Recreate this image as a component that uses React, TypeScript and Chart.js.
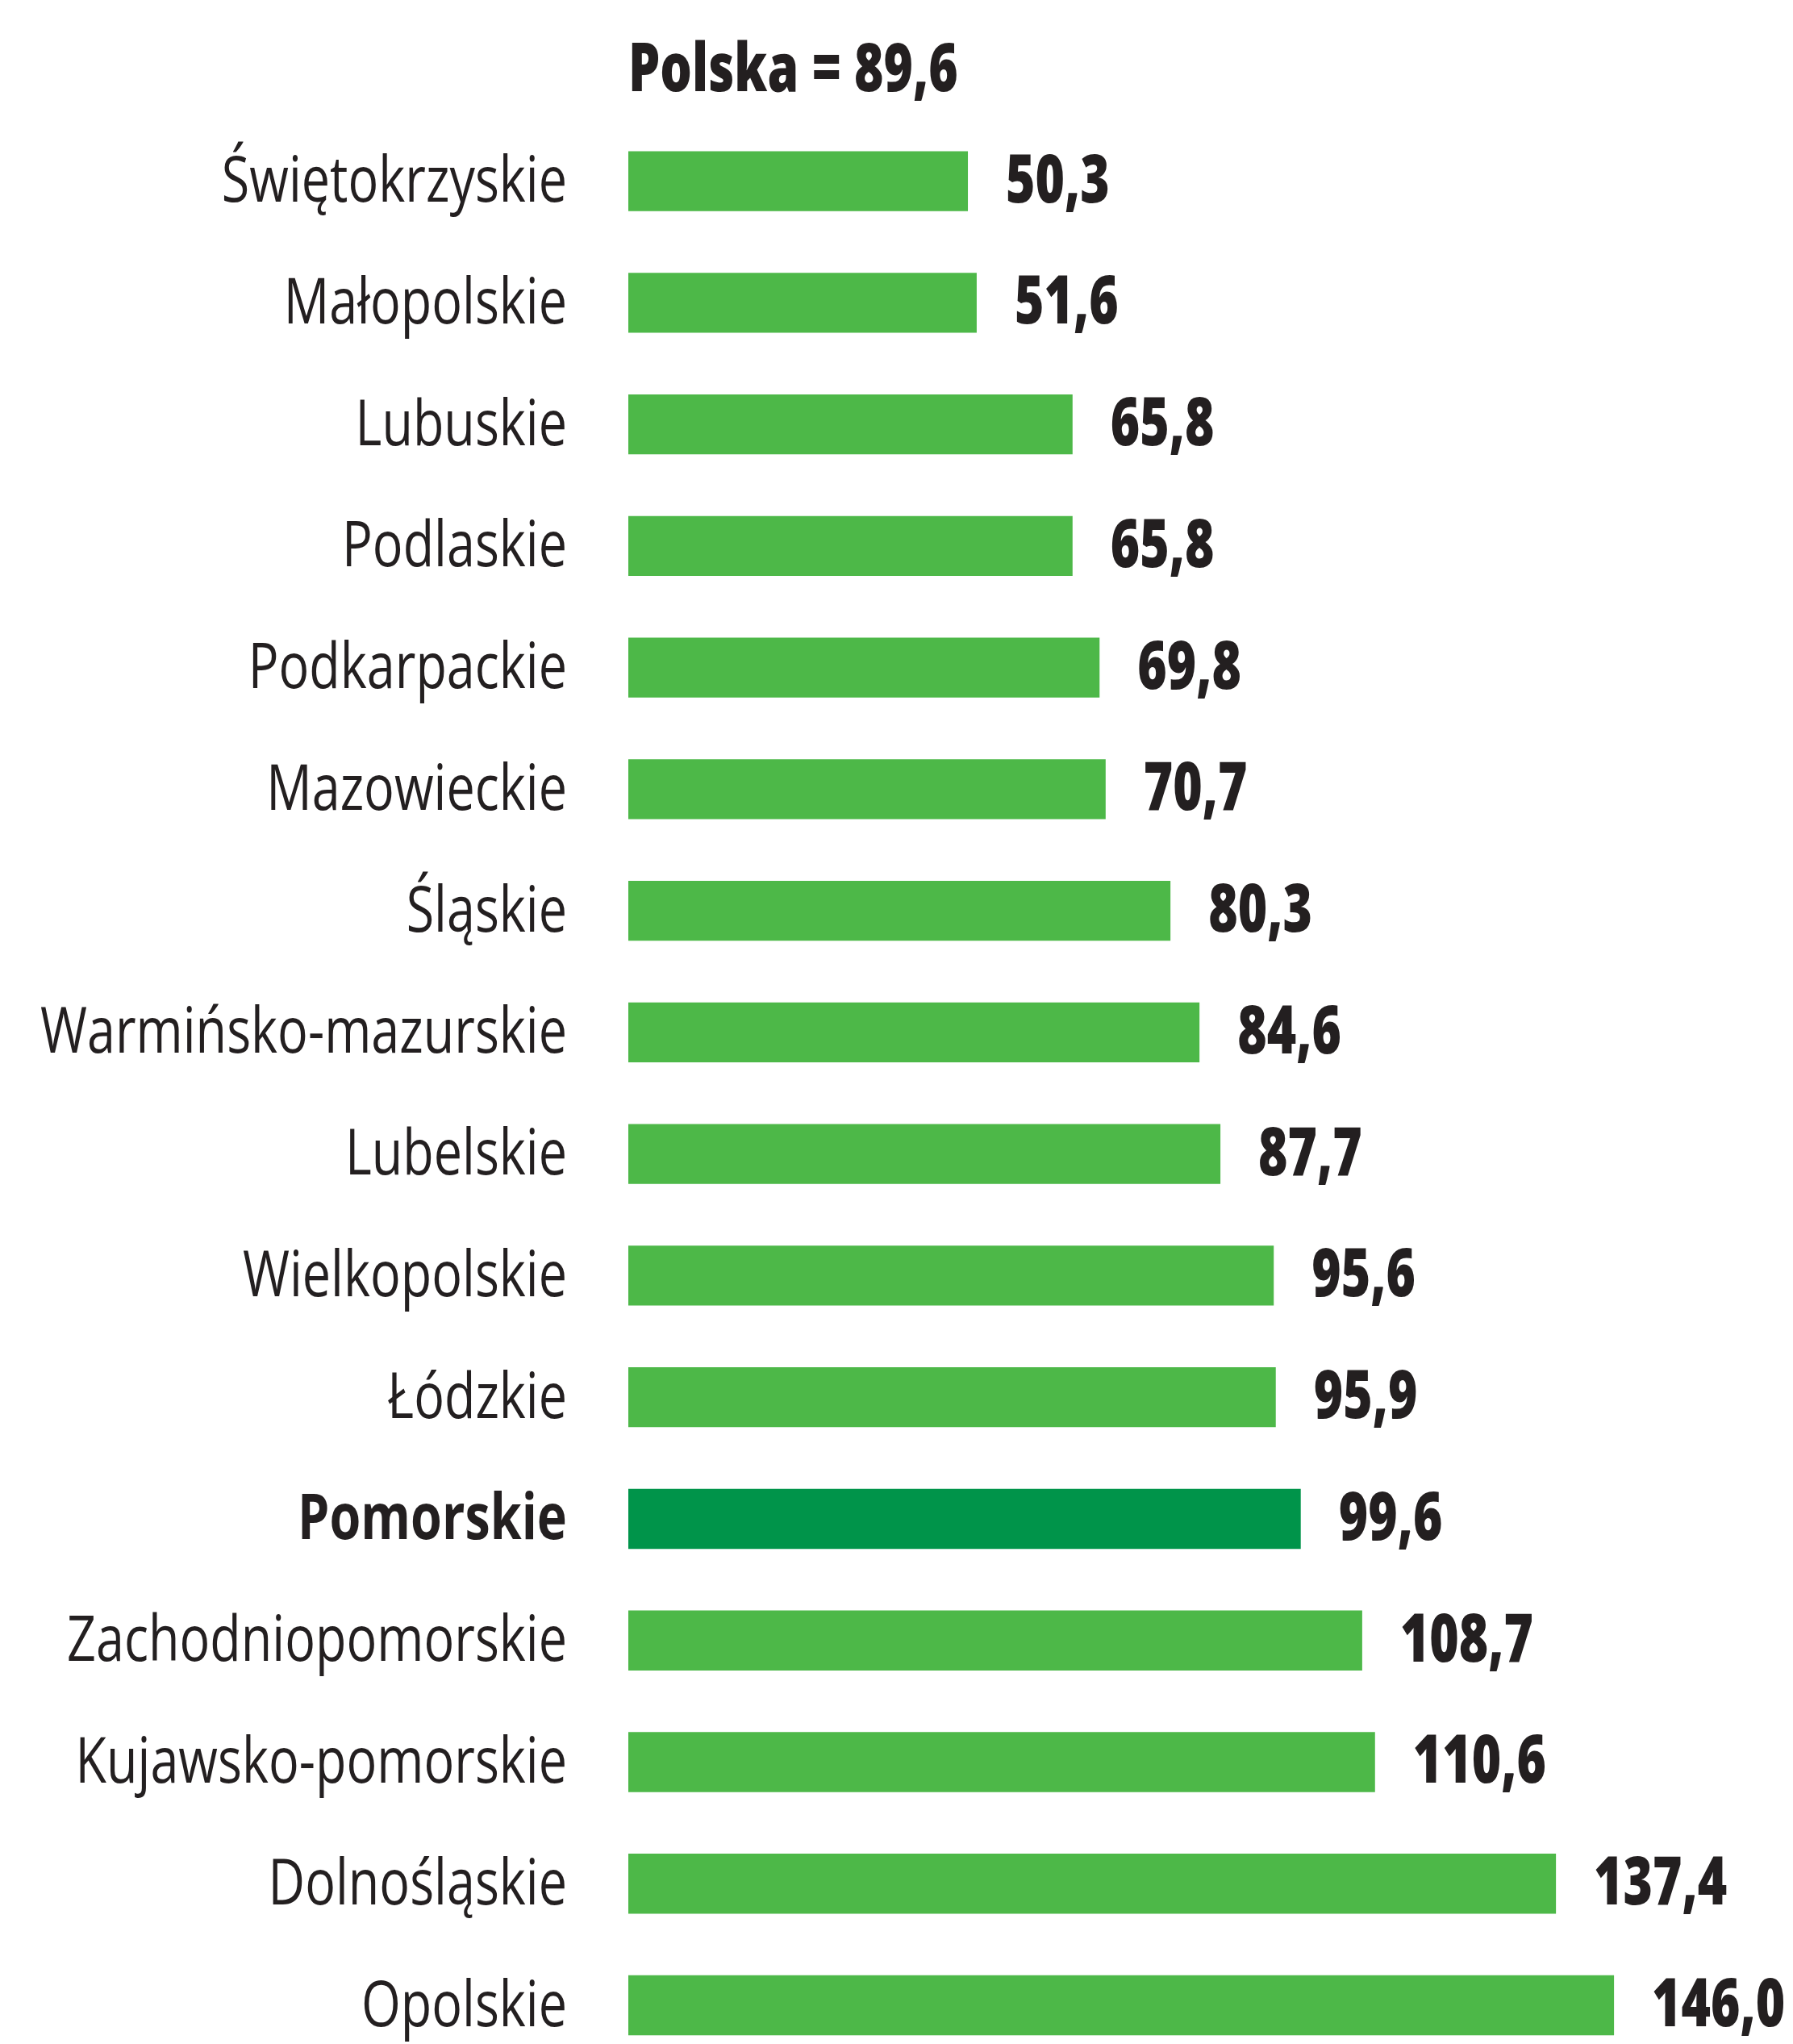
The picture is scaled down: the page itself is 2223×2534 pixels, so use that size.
import { useEffect, useRef } from "react";
import { Chart, registerables, CategoryScale } from "chart.js";

Chart.register(...registerables);

const categories = [
  "Świętokrzyskie",
  "Małopolskie",
  "Lubuskie",
  "Podlaskie",
  "Podkarpackie",
  "Mazowieckie",
  "Śląskie",
  "Warmińsko-mazurskie",
  "Lubelskie",
  "Wielkopolskie",
  "Łódzkie",
  "Pomorskie",
  "Zachodniopomorskie",
  "Kujawsko-pomorskie",
  "Dolnośląskie",
  "Opolskie",
];
const values = [50.3, 51.6, 65.8, 65.8, 69.8, 70.7, 80.3, 84.6, 87.7, 95.6, 95.9, 99.6, 108.7, 110.6, 137.4, 146.0];
const highlight = "Pomorskie";
const titleText = "Polska = 89,6";
const valueLabels = values.map((v) => v.toFixed(1).replace(".", ","));

const GREEN = "#4db848";
const DARK_GREEN = "#00944a";
const TEXT = "#231f20";
const FONT = '"Open Sans", "Noto Sans", sans-serif';
const LABEL_SIZE = 79;
const VALUE_SIZE = 84;

let labelSqueeze = 0.8;
let valueSqueeze = 0.75;

class CondensedCategoryScale extends CategoryScale {
  static id = "condensedCategory";
  static defaults = (CategoryScale as any).defaults;
  _computeLabelArea() {
    return undefined;
  }
  drawLabels(chartArea: any) {
    const self: any = this;
    const ctx = self.ctx;
    const x0 = self.right - self.options.ticks.padding;
    ctx.save();
    ctx.translate(x0, 0);
    ctx.scale(labelSqueeze, 1);
    ctx.translate(-x0, 0);
    (CategoryScale.prototype as any).drawLabels.call(this, chartArea);
    ctx.restore();
  }
}
Chart.register(CondensedCategoryScale as any);

function measure(text: string, font: string) {
  const c = document.createElement("canvas").getContext("2d")!;
  c.font = font;
  return c.measureText(text).width;
}

function drawSqueezed(ctx: any, text: string, x: number, y: number, sx: number) {
  ctx.save();
  ctx.translate(x, y);
  ctx.scale(sx, 1);
  ctx.fillText(text, 0, 0);
  ctx.restore();
}

export default function App() {
  const ref = useRef<HTMLCanvasElement | null>(null);

  useEffect(() => {
    if (!ref.current) return;
    const hiIndex = categories.indexOf(highlight);

    // horizontal condensing factors so the fallback font takes the reference's footprint
    const regFont = `${LABEL_SIZE}px ${FONT}`;
    const boldFont = `800 ${VALUE_SIZE}px ${FONT}`;
    labelSqueeze =
      (651 + 622) / (measure("Warmińsko-mazurskie", regFont) + measure("Zachodniopomorskie", regFont));
    valueSqueeze = (409 + 165) / (measure(titleText, boldFont) + measure("146,0", boldFont));

    const labelPlugin = {
      id: "valueLabels",
      afterDatasetsDraw(chart: any) {
        const ctx = chart.ctx;
        const meta = chart.getDatasetMeta(0);
        ctx.save();
        ctx.fillStyle = TEXT;
        ctx.font = boldFont;
        ctx.textAlign = "left";
        ctx.textBaseline = "alphabetic";
        meta.data.forEach((bar: any, i: number) => {
          drawSqueezed(ctx, valueLabels[i], bar.x + 47, bar.y + 26, valueSqueeze);
        });
        drawSqueezed(ctx, titleText, chart.chartArea.left, chart.chartArea.top - 36, valueSqueeze);
        ctx.restore();
      },
    };

    const chart = new Chart(ref.current, {
      type: "bar",
      data: {
        labels: categories,
        datasets: [
          {
            data: values,
            backgroundColor: categories.map((c) => (c === highlight ? DARK_GREEN : GREEN)),
            borderWidth: 0,
            barPercentage: 0.493,
            categoryPercentage: 1,
          },
        ],
      },
      options: {
        indexAxis: "y",
        responsive: false,
        animation: false,
        layout: { padding: { top: 149.2, bottom: 38.6, left: 0, right: 21 } },
        plugins: {
          legend: { display: false },
          tooltip: { enabled: false },
          title: { display: false },
        },
        scales: {
          x: { display: false, min: 0, max: 170 },
          y: {
            type: "condensedCategory",
            grid: { display: false, drawTicks: false },
            border: { display: false },
            ticks: {
              autoSkip: false,
              padding: 76,
              labelOffset: 3,
              color: TEXT,
              font: (c: any) => ({
                family: FONT,
                size: LABEL_SIZE,
                weight: c.index === hiIndex ? "bold" : "normal",
              }),
            },
            afterFit: (s: any) => {
              s.width = 779;
              s.paddingTop = 0;
              s.paddingBottom = 0;
            },
          },
        },
      },
      plugins: [labelPlugin],
    } as any);
    return () => chart.destroy();
  }, []);

  return (
    <div
      style={{
        position: "fixed",
        left: 0,
        top: 0,
        width: 2223,
        height: 2534,
        overflow: "hidden",
        background: "#ffffff",
      }}
    >
      <canvas ref={ref} width={2223} height={2600} style={{ display: "block", width: 2223, height: 2600 }} />
    </div>
  );
}
